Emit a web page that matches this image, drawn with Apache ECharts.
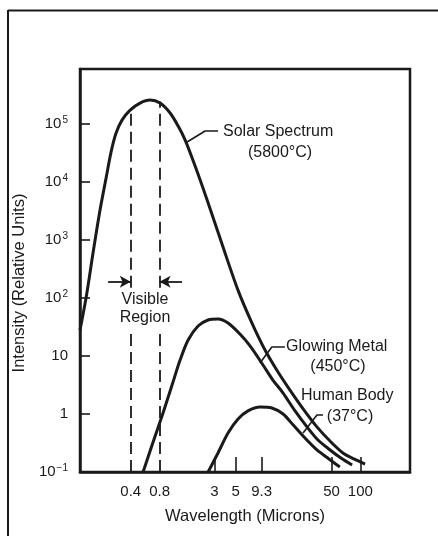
<!DOCTYPE html>
<html>
<head>
<meta charset="utf-8">
<script src="https://cdn.jsdelivr.net/npm/echarts@6/dist/echarts.min.js"></script>
<style>
  html, body { margin: 0; padding: 0; background: #fff; }
  #chart { width: 438px; height: 536px; }
</style>
</head>
<body>
<div id="chart"></div>
<script>
  // wavelength in microns, intensity in relative units
  const solarX = [0.118, 0.137, 0.162, 0.191, 0.221, 0.249, 0.281, 0.324, 0.394, 0.500, 0.637, 0.809, 1.03, 1.25, 1.48, 1.88, 2.51, 3.59, 5.27, 7.38, 10.1, 13.8, 18.4, 25.8, 35.2, 48.2, 65.8, 85.7, 112]
  const solarY = [28, 104, 621, 3290, 11700, 32900, 70000, 117000, 174000, 230000, 259000, 230000, 155000, 92500, 53000, 18900, 4900, 853, 137, 37, 12.7, 5.3, 2.59, 1.17, 0.60, 0.342, 0.213, 0.168, 0.137]
  const metalX = [0.538, 0.668, 0.869, 1.08, 1.31, 1.59, 2.02, 2.57, 3.26, 4.15, 5.53, 7.04, 9.62, 12.2, 15.6, 20.8, 27.7, 36.1, 48.3, 62.7, 82]
  const metalY = [0.1, 0.292, 1.04, 3.16, 8.5, 18.9, 32.9, 41.8, 43.5, 37.1, 23.9, 14.9, 7.0, 3.85, 2.30, 1.13, 0.60, 0.356, 0.24, 0.174, 0.132]
  const bodyX = [2.57, 3.26, 4.15, 5.28, 6.71, 8.95, 11.9, 15.6, 19.8, 26.4, 35.2, 47, 61]
  const bodyY = [0.1, 0.213, 0.47, 0.82, 1.13, 1.32, 1.27, 1.0, 0.65, 0.385, 0.24, 0.168, 0.122]

  const xTickValues = [3, 5, 9.3, 50, 100]
  const xLabelValues = [0.4, 0.8, 3, 5, 9.3, 50, 100]
  const yTickValues = [0.1, 1, 10, 100, 1000, 10000, 100000]

  // visible band edges; dashed lines break around the "Visible Region" note
  const visibleX = [0.4, 0.8]
  const visibleTop = [180000, 245000]
  const gapLow = 26
  const gapHigh = 150
  const arrowY = 190
  const arrowFrom = [0.232, 1.37]

  // leader lines from labels to curves
  const solarLead = [[1.55, 49000], [2.39, 76000], [3.26, 76000]]
  const metalLead = [[8.95, 7.6], [11.9, 14.3], [16.3, 14.3]]
  const bodyLead = [[25.2, 0.47], [35.2, 0.96], [40.7, 0.96]]

  const ink = '#1a1a1a'
  const font = '"Liberation Sans", Arial, Helvetica, sans-serif'
  const noteFont = '16px ' + font

  let zip = (xs, ys) => xs.map((x, i) => [x, ys[i]])

  let curve = (name, data) => ({
    name: name,
    type: 'line',
    data: data,
    smooth: 0.3,
    showSymbol: false,
    lineStyle: { color: ink, width: 3 },
    z: 3
  })

  let leader = (data) => ({
    type: 'line',
    data: data,
    showSymbol: false,
    lineStyle: { color: ink, width: 1.6 },
    z: 4
  })

  let supLabel = (v) => {
    if (v === 1) return '{b|1}'
    if (v === 10) return '{b|10}'
    let e = Math.round(Math.log10(v))
    return '{b|10}{s|' + (e < 0 ? '\u2212' + (-e) : e) + '}'
  }

  let note = (text, x, y, align) => ({
    type: 'text', x: x, y: y,
    style: { text: text, fill: ink, font: noteFont, align: align || 'left', verticalAlign: 'middle' }
  })

  let dashed = []
  visibleX.forEach((x, i) => {
    dashed.push([{ coord: [x, 0.1] }, { coord: [x, gapLow] }])
    dashed.push([{ coord: [x, gapHigh] }, { coord: [x, visibleTop[i]] }])
  })

  let chart = echarts.init(document.getElementById('chart'))
  chart.setOption({
    animation: false,
    backgroundColor: '#fff',
    grid: {
      left: 80, top: 69, right: 28, bottom: 64,
      show: true, borderColor: ink, borderWidth: 2.5, backgroundColor: 'transparent'
    },
    xAxis: {
      type: 'log',
      min: 0.118,
      max: 330,
      name: 'Wavelength (Microns)',
      nameLocation: 'middle',
      nameGap: 36,
      nameTextStyle: { color: ink, fontSize: 16.5, fontFamily: font },
      axisLine: { lineStyle: { color: ink, width: 2.5 } },
      axisTick: { show: true, inside: true, length: 15, customValues: xTickValues, lineStyle: { color: ink, width: 1.6 } },
      axisLabel: {
        customValues: xLabelValues, color: ink, fontSize: 15, fontFamily: font, margin: 12,
        formatter: (v) => String(v)
      },
      splitLine: { show: false },
      minorTick: { show: false }
    },
    yAxis: {
      type: 'log',
      min: 0.1,
      max: 890000,
      axisLine: { lineStyle: { color: ink, width: 2.5 } },
      axisTick: { show: true, inside: true, length: 10, customValues: yTickValues, lineStyle: { color: ink, width: 1.6 } },
      axisLabel: {
        customValues: yTickValues, margin: 12,
        formatter: supLabel,
        rich: {
          b: { color: ink, fontSize: 15, fontFamily: font, lineHeight: 18 },
          s: { color: ink, fontSize: 10, fontFamily: font, lineHeight: 18, verticalAlign: 'top', padding: [0, 0, 8, 1] }
        }
      },
      splitLine: { show: false },
      minorTick: { show: false }
    },
    series: [
      Object.assign(curve('Solar Spectrum', zip(solarX, solarY)), {
        markLine: {
          silent: true,
          symbol: ['none', 'none'],
          label: { show: false },
          lineStyle: { color: ink, width: 1.8, type: [12, 6] },
          data: dashed
        }
      }),
      Object.assign(curve('Glowing Metal', zip(metalX, metalY)), {
        markLine: {
          silent: true,
          symbol: ['none', 'arrow'],
          symbolSize: [9, 11],
          label: { show: false },
          lineStyle: { color: ink, width: 1.8, type: 'solid' },
          data: visibleX.map((x, i) => [{ coord: [arrowFrom[i], arrowY] }, { coord: [x, arrowY] }])
        }
      }),
      curve('Human Body', zip(bodyX, bodyY)),
      leader(solarLead),
      leader(metalLead),
      leader(bodyLead)
    ],
    graphic: [
      { type: 'line', shape: { x1: 8, y1: 10.5, x2: 438, y2: 10.5 }, style: { stroke: ink, lineWidth: 2 } },
      { type: 'line', shape: { x1: 8, y1: 10, x2: 8, y2: 536 }, style: { stroke: ink, lineWidth: 2 } },
      {
        type: 'text', x: 19, y: 283, rotation: Math.PI / 2,
        style: { text: 'Intensity (Relative Units)', fill: ink, font: '16.5px ' + font, align: 'center', verticalAlign: 'middle' }
      },
      note('Solar Spectrum', 223, 132),
      note('(5800\u00b0C)', 280, 153, 'center'),
      note('Glowing Metal', 286, 347),
      note('(450\u00b0C)', 338, 367, 'center'),
      note('Human Body', 301, 396),
      note('(37\u00b0C)', 350, 417, 'center'),
      note('Visible', 145, 300, 'center'),
      note('Region', 145, 318, 'center')
    ]
  })
</script>
</body>
</html>
